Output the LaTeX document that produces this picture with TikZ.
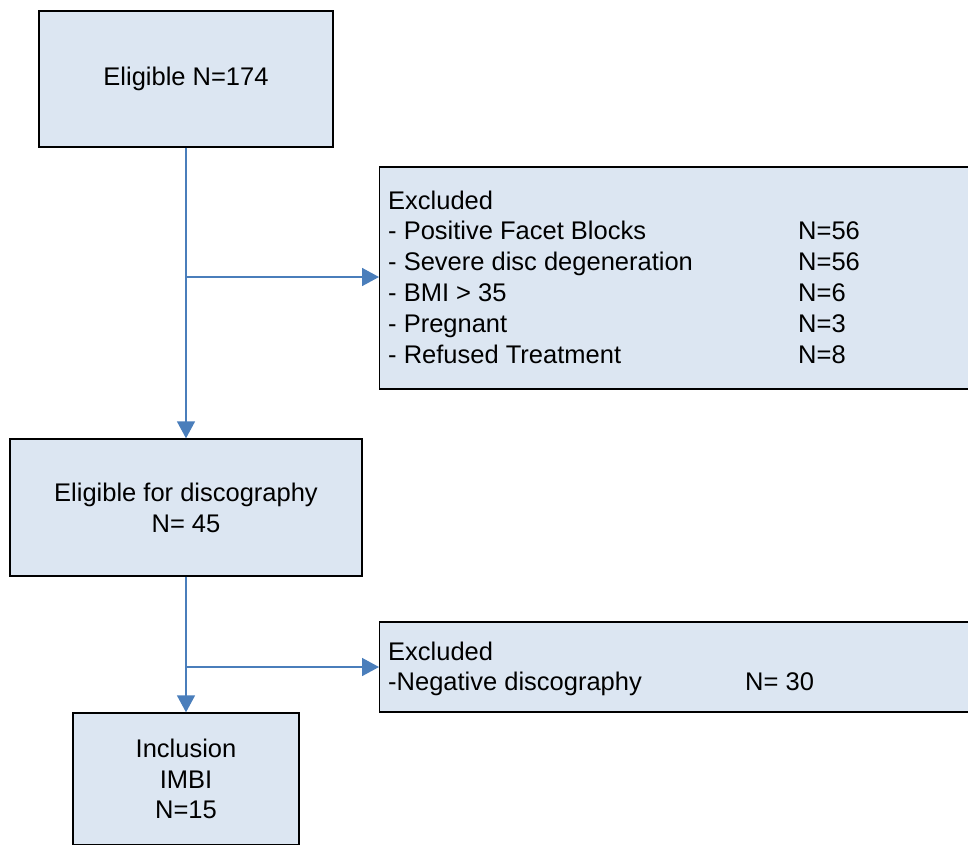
\documentclass[tikz,border=0pt]{standalone}
\usepackage{fontspec}
\setmainfont{Liberation Sans}
\usetikzlibrary{arrows.meta}
\definecolor{boxfill}{HTML}{DCE6F2}
\definecolor{flowblue}{HTML}{4A7EBB}
\begin{document}
\begin{tikzpicture}[x=1pt,y=-1pt,
  textfont/.style={font=\fontsize{25.5}{30.8}\selectfont},
  box/.style={draw=black, line width=1.4pt, fill=boxfill, rectangle, inner sep=0pt,
    textfont, align=center},
  listtext/.style={textfont, inner sep=0pt, anchor=base west},
  flow/.style={draw=flowblue, line width=1.6pt, -{Triangle[width=18pt,length=17pt]}}]
\useasboundingbox (0,0) rectangle (968,844);
\clip (0,0) rectangle (968,844);

% main flow boxes
\node[box, minimum width=294pt, minimum height=136pt] (elig) at (186,79) {Eligible N=174};
\node[box, minimum width=352pt, minimum height=137pt] (disc) at (186,507.5)
  {Eligible for discography\\N= 45};
\node[box, minimum width=226pt, minimum height=132pt] (incl) at (186,779)
  {Inclusion\\IMBI\\N=15};

% exclusion boxes (run past the right edge)
\node[box, minimum width=611pt, minimum height=222pt, anchor=west] (excl1) at (379,278) {};
\node[box, minimum width=611pt, minimum height=90pt, anchor=west] (excl2) at (379,667) {};

% exclusion lists
\node[listtext] (excl1list) at (388,209)
  {\begin{tabular}[t]{@{}p{410pt}@{}l@{}}
   Excluded & \\
   - Positive Facet Blocks & N=56\\
   - Severe disc degeneration & N=56\\
   - BMI > 35 & N=6\\
   - Pregnant & N=3\\
   - Refused Treatment & N=8
   \end{tabular}};
\node[listtext] (excl2list) at (388,660)
  {\begin{tabular}[t]{@{}p{357pt}@{}l@{}}
   Excluded & \\
   -Negative discography & N= 30
   \end{tabular}};

% connectors
\coordinate (j1) at (186,277);
\coordinate (j2) at (186,667);
\draw[flow] (elig.south) -- (disc.north);
\draw[flow] (j1) -- (j1 -| excl1.west);
\draw[flow] (disc.south) -- (incl.north);
\draw[flow] (j2) -- (j2 -| excl2.west);
\end{tikzpicture}
\end{document}
